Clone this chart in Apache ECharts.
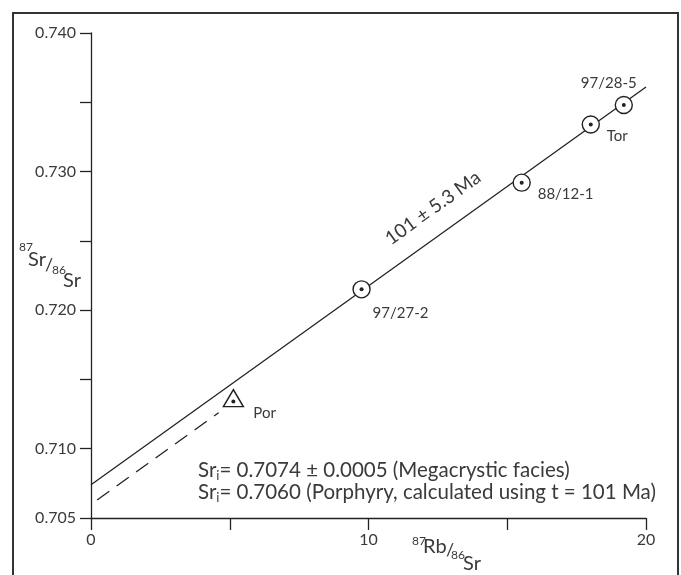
<!DOCTYPE html>
<html><head><meta charset="utf-8">
<script src="https://cdn.jsdelivr.net/npm/echarts@6/dist/echarts.min.js"></script>
<style>html,body{margin:0;padding:0;background:#fff}#c{width:681px;height:575px}</style>
</head><body><div id="c"></div>
<script>
// ---- data ----
const sampleNames = ['97/27-2', '88/12-1', 'Tor', '97/28-5'];
const sampleRb = [9.75, 15.52, 18.01, 19.2];
const sampleSr = [0.7215, 0.7292, 0.7334, 0.7348];
const porNames = ['Por'];
const porRb = [5.13];
const porSr = [0.7134];
const isochronX = [0, 20];
const isochronY = [0.7074, 0.7361];
const porLineX = [0.22, 4.6];
const porLineY = [0.7063, 0.7126];
const xTickLabels = ['0', '10', '20'];
const yTickLabels = ['0.705', '0.710', '0.720', '0.730', '0.740'];
const ageText = '101 ± 5.3 Ma';
const sriMega = '0.7074 ± 0.0005 (Megacrystic facies)';
const sriPor = '0.7060 (Porphyry, calculated using t = 101 Ma)';

// ---- styles (label offsets in px) ----
const labelOffsets = { '97/27-2': [11, 24], '88/12-1': [16, 11], 'Tor': [16, 12], '97/28-5': [-43, -22], 'Por': [20, 15] };
const FONT = 'Lato';
const INK = '#222';
const TXT = '#3a3a3a';

function pairs(xs, ys) { return xs.map((x, i) => [x, ys[i]]); }
function labelled(names, xs, ys) {
  return names.map((n, i) => ({
    name: n, value: [xs[i], ys[i]],
    label: { show: true, formatter: n, position: 'inside', align: 'left', verticalAlign: 'middle',
      offset: labelOffsets[n], fontFamily: FONT, fontSize: 15, color: TXT }
  }));
}

const chart = echarts.init(document.getElementById('c'), null, { renderer: 'canvas' });
const t = (text, x, y, fs) => ({ type: 'text', left: x, top: y - fs * 0.6, style: { text, fontFamily: FONT, fontSize: fs, fill: TXT } });
const sriRich = { a: { fontFamily: FONT, fontSize: 20.5, fill: TXT }, b: { fontFamily: FONT, fontSize: 13, fill: TXT, padding: [11, 0, 0, 0] } };

chart.setOption({
  animation: false,
  backgroundColor: '#fff',
  grid: { left: 91, right: 35, top: 33, bottom: 57, containLabel: false },
  xAxis: {
    type: 'value', min: 0, max: 20, interval: 5,
    axisLine: { show: true, onZero: false, lineStyle: { color: INK, width: 1.3 } },
    axisTick: { show: true, inside: false, length: 12, lineStyle: { color: INK, width: 1.3 } },
    axisLabel: { margin: 14, fontFamily: FONT, fontSize: 16, color: TXT,
      formatter: v => xTickLabels.includes(String(v)) ? String(v) : '' },
    splitLine: { show: false }
  },
  yAxis: {
    type: 'value', min: 0.705, max: 0.740, interval: 0.005,
    axisLine: { show: true, onZero: false, lineStyle: { color: INK, width: 1.3 } },
    axisTick: { show: true, inside: false, length: 11, lineStyle: { color: INK, width: 1.3 } },
    axisLabel: { margin: 15, fontFamily: FONT, fontSize: 16, color: TXT,
      formatter: v => { const s = v.toFixed(3); return yTickLabels.includes(s) ? s : ''; } },
    splitLine: { show: false }
  },
  series: [
    { type: 'line', data: pairs(isochronX, isochronY), symbol: 'none', z: 1,
      lineStyle: { color: INK, width: 1.3 } },
    { type: 'line', data: pairs(porLineX, porLineY), symbol: 'none', z: 1,
      lineStyle: { color: INK, width: 1.3, type: [15, 9] } },
    { type: 'scatter', data: labelled(sampleNames, sampleRb, sampleSr), symbol: 'circle', symbolSize: 17, z: 3,
      itemStyle: { color: '#fff', borderColor: INK, borderWidth: 1.4, opacity: 1 } },
    { type: 'scatter', data: labelled(porNames, porRb, porSr), symbol: 'triangle', symbolSize: [20, 17], symbolOffset: [0, -3.5], z: 3,
      itemStyle: { color: '#fff', borderColor: INK, borderWidth: 1.4, opacity: 1 } },
    { type: 'scatter', data: pairs(sampleRb.concat(porRb), sampleSr.concat(porSr)), symbol: 'circle', symbolSize: 4, z: 4,
      itemStyle: { color: INK, opacity: 1 } }
  ],
  graphic: [
    { type: 'rect', shape: { x: 13, y: 13, width: 665, height: 620 }, style: { fill: 'none', stroke: '#333', lineWidth: 2 }, silent: true },
    // y axis title
    t('87', 19, 248, 12), t('Sr', 28, 262, 20), t('/', 45, 267, 18), t('86', 52, 271, 12), t('Sr', 63, 283, 20),
    // x axis title
    t('87', 412, 542, 12), t('Rb', 423, 549, 20), t('/', 446, 552, 18), t('86', 451, 556, 12), t('Sr', 463, 566, 20),
    // age along isochron
    { type: 'text', x: 433, y: 208, rotation: 35.7 * Math.PI / 180,
      style: { text: ageText, fontFamily: FONT, fontSize: 19, fill: TXT, align: 'center', verticalAlign: 'middle' } },
    // Sri texts
    { type: 'text', left: 198, top: 460, style: { text: '{a|Sr}{b|i}{a|= ' + sriMega + '}', fill: TXT, rich: sriRich } },
    { type: 'text', left: 198, top: 482, style: { text: '{a|Sr}{b|i}{a|= ' + sriPor + '}', fill: TXT, rich: sriRich } }
  ]
});
</script></body></html>
